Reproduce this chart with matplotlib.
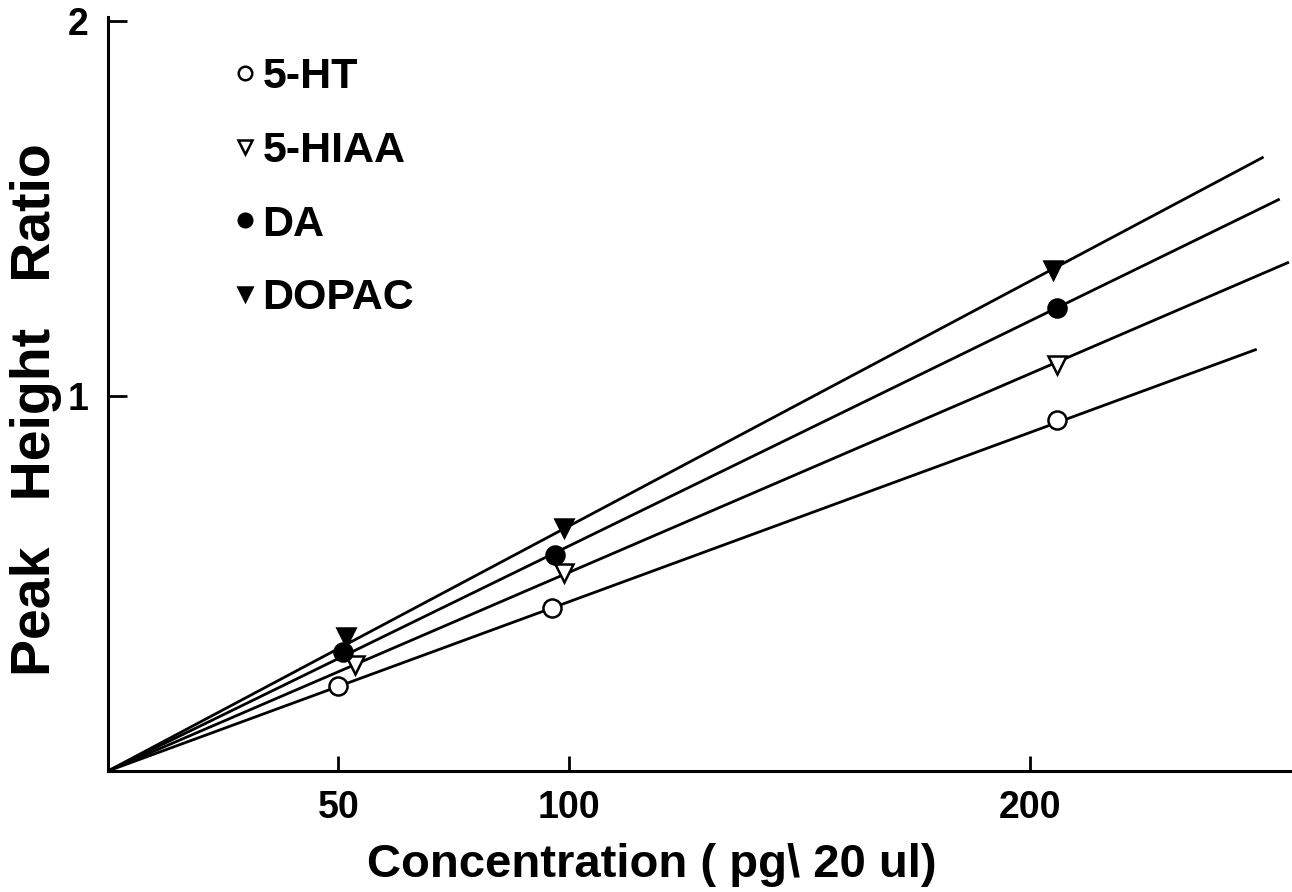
import matplotlib
matplotlib.use('Agg')
import matplotlib.pyplot as plt
import numpy as np

plt.rcParams['font.family'] = ['Liberation Sans', 'DejaVu Sans']
plt.rcParams['font.weight'] = 'bold'

# compounds, marker points and fitted line end points
names = ['5-HT', '5-HIAA', 'DA', 'DOPAC']
ht_x = [50, 96.3, 206]
ht_y = [0.227, 0.435, 0.936]
hiaa_x = [53.5, 99, 206]
hiaa_y = [0.283, 0.528, 1.083]
da_x = [51, 97, 206]
da_y = [0.317, 0.576, 1.235]
dopac_x = [51.6, 98.9, 205]
dopac_y = [0.357, 0.648, 1.336]
line_end_x = [249, 256, 254, 250.5]
line_end_y = [1.123, 1.355, 1.523, 1.635]

xticks = [50, 100, 200]
yticks = [1, 2]

fig = plt.figure(figsize=(12.92, 8.92), dpi=100)
ax = fig.add_axes([108/1292, 121/892, 1182/1292, 754/892])

series = [(ht_x, ht_y, 'o', 'none'),
          (hiaa_x, hiaa_y, 'v', 'none'),
          (da_x, da_y, 'o', 'black'),
          (dopac_x, dopac_y, 'v', 'black')]

for i, (xs, ys, m, fc) in enumerate(series):
    ax.plot([0, line_end_x[i]], [0, line_end_y[i]], color='black', lw=2.0, zorder=2)
    ax.plot(xs, ys, ls='none', marker=m, ms=13, mfc='white' if fc == 'none' else fc,
            mec='black', mew=1.8, zorder=3, label=names[i])

ax.set_xlim(0, 256.5)
ax.set_ylim(0, 2.01)
for s in ['top', 'right']:
    ax.spines[s].set_visible(False)
for s in ['left', 'bottom']:
    ax.spines[s].set_linewidth(2.2)

ax.set_xticks(xticks)
ax.set_xticklabels([str(t) for t in xticks], fontsize=27, fontweight='bold')
ax.set_yticks(yticks)
ax.set_yticklabels([str(t) for t in yticks], fontsize=27, fontweight='bold')
ax.tick_params(axis='x', direction='in', length=11, width=2, pad=14)
ax.tick_params(axis='y', direction='in', length=14, width=2, pad=14)

ax.set_xlabel('Concentration ( pg\\ 20 ul)', fontsize=34, fontweight='bold')
ax.xaxis.set_label_coords(0.46, -0.095)
ax.set_ylabel('Peak   Height   Ratio', fontsize=40, fontweight='bold')
ax.yaxis.set_label_coords(-0.039, 0.479)

leg = ax.legend(loc='upper left', bbox_to_anchor=(0.087, 0.975), frameon=False,
                fontsize=31, markerscale=0.75, handlelength=0.6, handletextpad=0.1,
                labelspacing=0.78, borderpad=0)

fig.savefig('out.png', dpi=100)
